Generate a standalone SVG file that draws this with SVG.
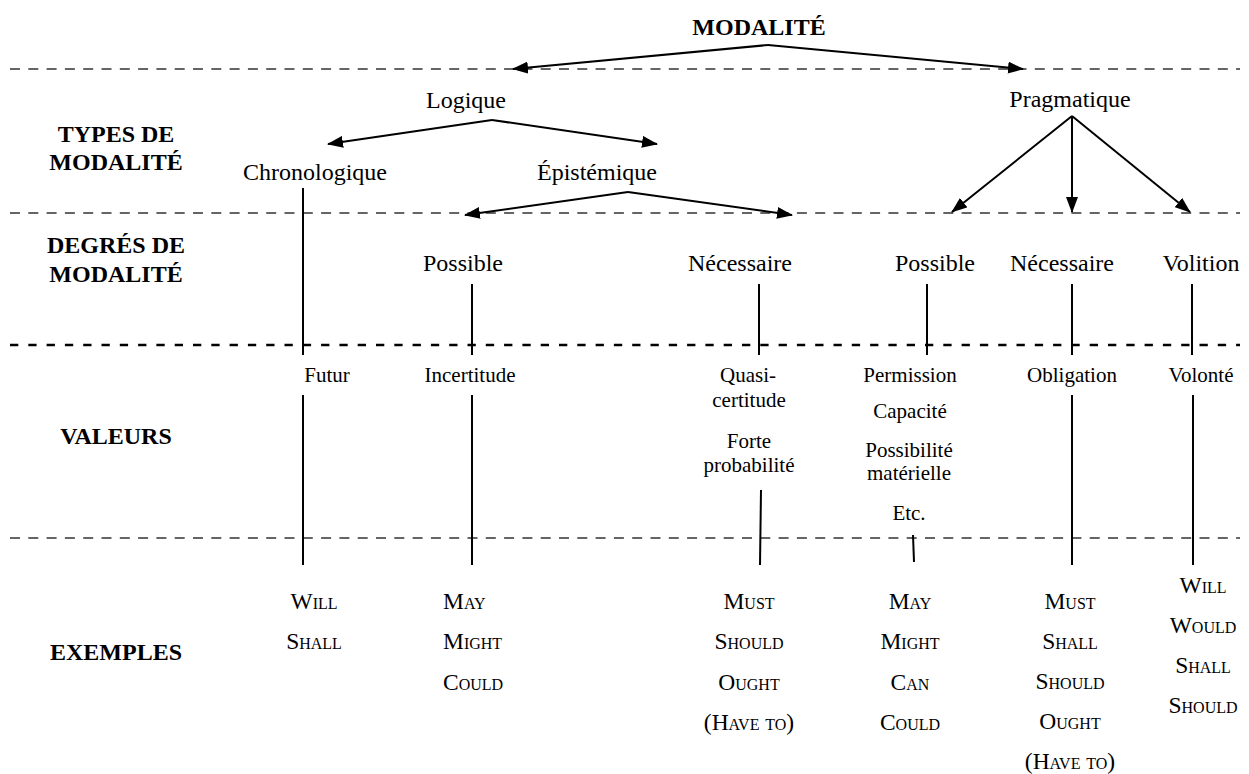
<svg xmlns="http://www.w3.org/2000/svg" width="1249" height="774" viewBox="0 0 1249 774">
<style>
text{font-family:"Liberation Serif","Times New Roman",serif;fill:#000;text-anchor:middle}
.b{font-weight:bold;font-size:24px}
.r{font-size:24px}
.v{font-size:21px}
.sc{font-size:23.5px;font-variant:small-caps}
.st{text-anchor:start}
.dash{stroke:#333;stroke-width:1.3;stroke-dasharray:10 8.3;fill:none}
.dashk{stroke:#000;stroke-width:2.5;stroke-dasharray:8.3 10;fill:none}
.c{stroke:#000;stroke-width:2;fill:none}
.a{stroke:#000;stroke-width:2;fill:none;marker-end:url(#ah)}
</style>
<defs>
<marker id="ah" viewBox="0 0 16 12" refX="15" refY="6" markerWidth="16" markerHeight="12" markerUnits="userSpaceOnUse" orient="auto">
<path d="M0,0 L16,6 L0,12 z" fill="#000"/>
</marker>
</defs>
<g id="separators">
<line class="dash" x1="10" y1="69" x2="1240" y2="69"/>
<line class="dash" x1="10" y1="213" x2="1240" y2="213"/>
<line class="dashk" x1="10" y1="345" x2="1240" y2="345"/>
<line class="dash" x1="10" y1="538" x2="1240" y2="538"/>
</g>
<g id="row-labels">
<text class="b" x="116" y="142">TYPES DE</text>
<text class="b" x="116" y="170">MODALITÉ</text>
<text class="b" x="116" y="253">DEGRÉS DE</text>
<text class="b" x="116" y="282">MODALITÉ</text>
<text class="b" x="116" y="444">VALEURS</text>
<text class="b" x="116" y="660">EXEMPLES</text>
</g>
<g id="connectors">
<line class="a" x1="768" y1="45" x2="513" y2="69"/>
<line class="a" x1="768" y1="45" x2="1023" y2="69"/>
<line class="a" x1="492" y1="120" x2="328" y2="144"/>
<line class="a" x1="492" y1="120" x2="657" y2="144"/>
<line class="a" x1="628" y1="192" x2="465" y2="215"/>
<line class="a" x1="628" y1="192" x2="792" y2="215"/>
<line class="a" x1="1072" y1="116" x2="952" y2="212"/>
<line class="a" x1="1072" y1="116" x2="1072" y2="212"/>
<line class="a" x1="1072" y1="116" x2="1190" y2="212"/>
<line class="c" x1="303" y1="188" x2="303" y2="355"/>
<line class="c" x1="472" y1="284" x2="472" y2="355"/>
<line class="c" x1="759" y1="284" x2="759" y2="355"/>
<line class="c" x1="927" y1="284" x2="927" y2="355"/>
<line class="c" x1="1072" y1="284" x2="1072" y2="355"/>
<line class="c" x1="1192" y1="284" x2="1192" y2="355"/>
<line class="c" x1="303" y1="395" x2="303" y2="565"/>
<line class="c" x1="472" y1="395" x2="472" y2="565"/>
<line class="c" x1="761" y1="490" x2="760" y2="565"/>
<line class="c" x1="913" y1="535" x2="914" y2="562"/>
<line class="c" x1="1072" y1="395" x2="1072" y2="565"/>
<line class="c" x1="1193" y1="395" x2="1193" y2="565"/>
</g>
<g id="modalite"><text class="b" x="759" y="35">MODALITÉ</text></g>
<g id="logique"><text class="r" x="466" y="108">Logique</text></g>
<g id="pragmatique"><text class="r" x="1070" y="107">Pragmatique</text></g>
<g id="chronologique"><text class="r" x="315" y="180">Chronologique</text></g>
<g id="epistemique"><text class="r" x="597" y="180">Épistémique</text></g>
<g id="possible-epi"><text class="r" x="463" y="271">Possible</text></g>
<g id="necessaire-epi"><text class="r" x="740" y="271">Nécessaire</text></g>
<g id="possible-prag"><text class="r" x="935" y="271">Possible</text></g>
<g id="necessaire-prag"><text class="r" x="1062" y="271">Nécessaire</text></g>
<g id="volition"><text class="r" x="1201" y="271">Volition</text></g>
<g id="futur"><text class="v" x="327" y="382">Futur</text></g>
<g id="incertitude"><text class="v" x="470" y="382">Incertitude</text></g>
<g id="quasi"><text class="v" x="748" y="382">Quasi-</text><text class="v" x="749" y="407">certitude</text><text class="v" x="749" y="448">Forte</text><text class="v" x="749" y="472">probabilité</text></g>
<g id="permission"><text class="v" x="910" y="382">Permission</text><text class="v" x="910" y="418">Capacité</text><text class="v" x="909" y="457">Possibilité</text><text class="v" x="909" y="480">matérielle</text><text class="v" x="909" y="520">Etc.</text></g>
<g id="obligation"><text class="v" x="1072" y="382">Obligation</text></g>
<g id="volonte"><text class="v" x="1201" y="382">Volonté</text></g>
<g id="ex-futur"><text class="sc" x="314" y="609">Will</text><text class="sc" x="314" y="649">Shall</text></g>
<g id="ex-incertitude"><text class="sc st" x="443" y="609">May</text><text class="sc st" x="443" y="649">Might</text><text class="sc st" x="443" y="690">Could</text></g>
<g id="ex-quasi"><text class="sc" x="749" y="609">Must</text><text class="sc" x="749" y="649">Should</text><text class="sc" x="749" y="690">Ought</text><text class="sc" x="749" y="730">(Have to)</text></g>
<g id="ex-permission"><text class="sc" x="910" y="609">May</text><text class="sc" x="910" y="649">Might</text><text class="sc" x="910" y="690">Can</text><text class="sc" x="910" y="730">Could</text></g>
<g id="ex-obligation"><text class="sc" x="1070" y="609">Must</text><text class="sc" x="1070" y="649">Shall</text><text class="sc" x="1070" y="689">Should</text><text class="sc" x="1070" y="729">Ought</text><text class="sc" x="1070" y="769">(Have to)</text></g>
<g id="ex-volonte"><text class="sc" x="1203" y="593">Will</text><text class="sc" x="1203" y="633">Would</text><text class="sc" x="1203" y="673">Shall</text><text class="sc" x="1203" y="713">Should</text></g>
</svg>
